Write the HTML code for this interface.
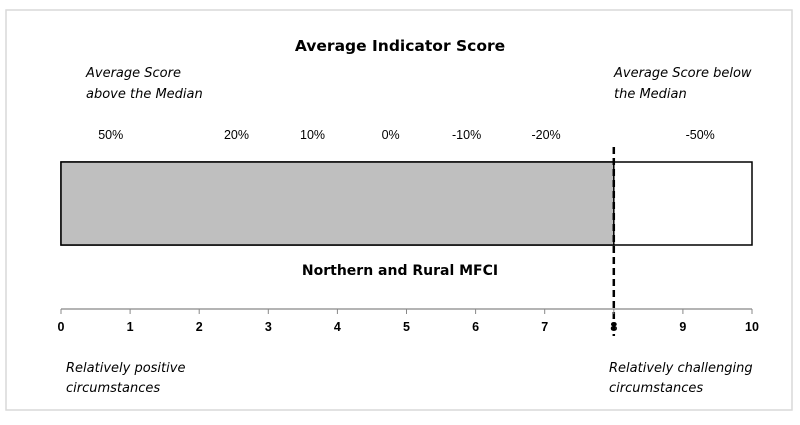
<!DOCTYPE html>
<html><head><meta charset="utf-8"><style>
body{margin:0;background:#fff;}
svg text{font-family:"Liberation Sans",Arial,sans-serif;}
.cal{font-family:"DejaVu Sans","Liberation Sans",sans-serif;}
</style></head><body>
<svg width="800" height="420" viewBox="0 0 800 420">
<rect x="6" y="10" width="786" height="400" fill="#fff" stroke="#d9d9d9" stroke-width="1.5"/>
<text x="400" y="51" text-anchor="middle" font-weight="bold" font-size="15.5" class="cal">Average Indicator Score</text>
<text x="86" y="77" font-style="italic" font-size="13" class="cal"><tspan x="86">Average Score</tspan><tspan x="86" dy="21">above the Median</tspan></text>
<text x="614" y="77" font-style="italic" font-size="13" class="cal"><tspan x="614">Average Score below</tspan><tspan x="614" dy="21">the Median</tspan></text>
<g id="pct"></g>
<g id="bars"></g>
<text x="400" y="275" text-anchor="middle" font-weight="bold" font-size="14" class="cal">Northern and Rural MFCI</text>
<g id="axis"></g>
<text x="66" y="372" font-style="italic" font-size="13" class="cal"><tspan x="66">Relatively positive</tspan><tspan x="66" dy="20">circumstances</tspan></text>
<text x="609" y="372" font-style="italic" font-size="13" class="cal"><tspan x="609">Relatively challenging</tspan><tspan x="609" dy="20">circumstances</tspan></text>
</svg>
<script>
const ticks=[0,1,2,3,4,5,6,7,8,9,10];
const pctLabels=["50%","20%","10%","0%","-10%","-20%","-50%"];
const pctPositions=[0.72,2.54,3.64,4.77,5.87,7.02,9.25];
const scoreValue=[8];
const maxScore=[10];
const medianLine=[8];
const NS="http://www.w3.org/2000/svg";
const x=v=>61+v*69.1;
function mk(t,a,p){const e=document.createElementNS(NS,t);for(const k in a)e.setAttribute(k,a[k]);p.appendChild(e);return e;}
const bars=document.getElementById('bars');
const bg=mk('rect',{x:x(0),y:162,width:x(maxScore[0])-x(0),height:83,fill:'#fff',stroke:'#000','stroke-width':1.5},bars);


const fg=mk('rect',{x:x(0),y:162,width:x(scoreValue[0])-x(0),height:83,fill:'#bfbfbf',stroke:'#000','stroke-width':1.5},bars);


const ml=mk('line',{x1:x(medianLine[0]),x2:x(medianLine[0]),y1:147,y2:336,stroke:'#000','stroke-width':2.5,'stroke-dasharray':'7,4'},bars);


const pg=document.getElementById('pct');
pctLabels.forEach((l,i)=>{const t=mk('text',{x:x(pctPositions[i]),y:139,'text-anchor':'middle','font-size':12.5},pg);t.textContent=l;

});
const ax=document.getElementById('axis');
const al=mk('line',{x1:x(0),x2:x(10),y1:309,y2:309,stroke:'#888','stroke-width':1.2},ax);


ticks.forEach(v=>{mk('line',{x1:x(v),x2:x(v),y1:309,y2:314,stroke:'#888'},ax);
const t=mk('text',{x:x(v),y:331,'text-anchor':'middle','font-size':12.5,'font-weight':'bold'},ax);t.textContent=v;

});
</script>
</body></html>
